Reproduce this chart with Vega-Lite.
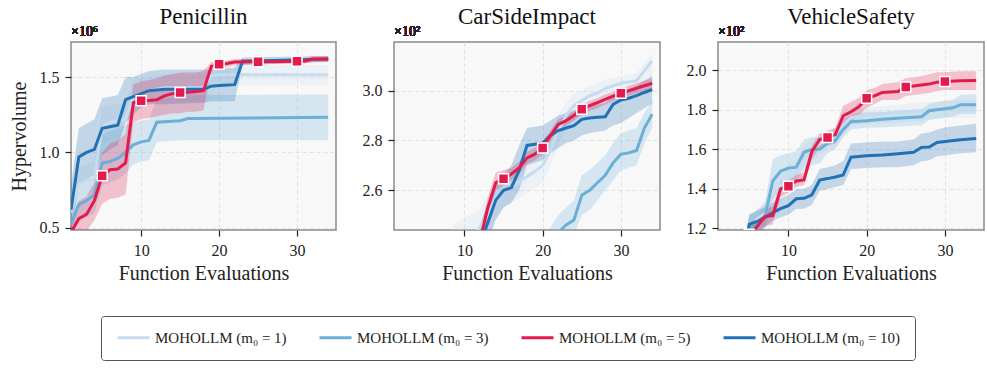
{
"$schema": "https://vega.github.io/schema/vega-lite/v6.json",
"padding": {"left": 8, "top": 5, "right": 5, "bottom": 5},
"data": {"values": [
{"p":"P","s":"1","x":1,"m":0.60,"lo":0.50,"hi":0.72},
{"p":"P","s":"1","x":2,"m":0.79,"lo":0.70,"hi":0.90},
{"p":"P","s":"1","x":3,"m":0.81,"lo":0.72,"hi":0.92},
{"p":"P","s":"1","x":4,"m":0.83,"lo":0.73,"hi":0.94},
{"p":"P","s":"1","x":5,"m":1.17,"lo":1.05,"hi":1.30},
{"p":"P","s":"1","x":6,"m":1.20,"lo":1.08,"hi":1.31},
{"p":"P","s":"1","x":7,"m":1.21,"lo":1.09,"hi":1.32},
{"p":"P","s":"1","x":8,"m":1.22,"lo":1.10,"hi":1.33},
{"p":"P","s":"1","x":9,"m":1.37,"lo":1.28,"hi":1.48},
{"p":"P","s":"1","x":10,"m":1.39,"lo":1.30,"hi":1.49},
{"p":"P","s":"1","x":11,"m":1.41,"lo":1.32,"hi":1.50},
{"p":"P","s":"1","x":12,"m":1.42,"lo":1.33,"hi":1.51},
{"p":"P","s":"1","x":13,"m":1.43,"lo":1.34,"hi":1.52},
{"p":"P","s":"1","x":18,"m":1.43,"lo":1.34,"hi":1.52},
{"p":"P","s":"1","x":19,"m":1.51,"lo":1.45,"hi":1.57},
{"p":"P","s":"1","x":20,"m":1.515,"lo":1.45,"hi":1.58},
{"p":"P","s":"1","x":34,"m":1.515,"lo":1.45,"hi":1.58},
{"p":"P","s":"3","x":1,"m":0.52,"lo":0.45,"hi":0.62},
{"p":"P","s":"3","x":2,"m":0.655,"lo":0.55,"hi":0.78},
{"p":"P","s":"3","x":3,"m":0.68,"lo":0.57,"hi":0.80},
{"p":"P","s":"3","x":4,"m":0.72,"lo":0.60,"hi":0.85},
{"p":"P","s":"3","x":5,"m":0.93,"lo":0.78,"hi":1.12},
{"p":"P","s":"3","x":6,"m":0.94,"lo":0.80,"hi":1.14},
{"p":"P","s":"3","x":7,"m":0.96,"lo":0.82,"hi":1.16},
{"p":"P","s":"3","x":8,"m":1.00,"lo":0.86,"hi":1.18},
{"p":"P","s":"3","x":9,"m":1.05,"lo":0.92,"hi":1.20},
{"p":"P","s":"3","x":10,"m":1.07,"lo":0.94,"hi":1.21},
{"p":"P","s":"3","x":11,"m":1.08,"lo":0.95,"hi":1.22},
{"p":"P","s":"3","x":12,"m":1.20,"lo":1.07,"hi":1.35},
{"p":"P","s":"3","x":15,"m":1.21,"lo":1.08,"hi":1.37},
{"p":"P","s":"3","x":16,"m":1.225,"lo":1.08,"hi":1.38},
{"p":"P","s":"3","x":34,"m":1.233,"lo":1.08,"hi":1.385},
{"p":"P","s":"10","x":1,"m":0.62,"lo":0.48,"hi":0.78},
{"p":"P","s":"10","x":2,"m":0.97,"lo":0.78,"hi":1.16},
{"p":"P","s":"10","x":3,"m":1.00,"lo":0.82,"hi":1.19},
{"p":"P","s":"10","x":4,"m":1.02,"lo":0.85,"hi":1.22},
{"p":"P","s":"10","x":5,"m":1.16,"lo":0.98,"hi":1.36},
{"p":"P","s":"10","x":6,"m":1.17,"lo":1.02,"hi":1.37},
{"p":"P","s":"10","x":7,"m":1.18,"lo":1.05,"hi":1.38},
{"p":"P","s":"10","x":8,"m":1.35,"lo":1.20,"hi":1.50},
{"p":"P","s":"10","x":9,"m":1.37,"lo":1.25,"hi":1.50},
{"p":"P","s":"10","x":10,"m":1.39,"lo":1.30,"hi":1.52},
{"p":"P","s":"10","x":11,"m":1.41,"lo":1.32,"hi":1.54},
{"p":"P","s":"10","x":13,"m":1.42,"lo":1.32,"hi":1.55},
{"p":"P","s":"10","x":18,"m":1.42,"lo":1.33,"hi":1.55},
{"p":"P","s":"10","x":19,"m":1.44,"lo":1.34,"hi":1.55},
{"p":"P","s":"10","x":20,"m":1.445,"lo":1.34,"hi":1.555},
{"p":"P","s":"10","x":22,"m":1.45,"lo":1.34,"hi":1.56},
{"p":"P","s":"10","x":23,"m":1.605,"lo":1.58,"hi":1.63},
{"p":"P","s":"10","x":34,"m":1.62,"lo":1.60,"hi":1.64},
{"p":"P","s":"5","x":1,"m":0.47,"lo":0.40,"hi":0.55},
{"p":"P","s":"5","x":2,"m":0.56,"lo":0.45,"hi":0.68},
{"p":"P","s":"5","x":3,"m":0.59,"lo":0.48,"hi":0.71},
{"p":"P","s":"5","x":4,"m":0.68,"lo":0.55,"hi":0.80},
{"p":"P","s":"5","x":5,"m":0.845,"lo":0.66,"hi":1.00},
{"p":"P","s":"5","x":6,"m":0.885,"lo":0.69,"hi":1.06},
{"p":"P","s":"5","x":7,"m":0.89,"lo":0.70,"hi":1.08},
{"p":"P","s":"5","x":8,"m":0.93,"lo":0.72,"hi":1.12},
{"p":"P","s":"5","x":9,"m":1.33,"lo":1.20,"hi":1.45},
{"p":"P","s":"5","x":10,"m":1.343,"lo":1.22,"hi":1.47},
{"p":"P","s":"5","x":11,"m":1.345,"lo":1.23,"hi":1.48},
{"p":"P","s":"5","x":12,"m":1.35,"lo":1.24,"hi":1.49},
{"p":"P","s":"5","x":13,"m":1.375,"lo":1.25,"hi":1.51},
{"p":"P","s":"5","x":14,"m":1.39,"lo":1.26,"hi":1.52},
{"p":"P","s":"5","x":15,"m":1.397,"lo":1.26,"hi":1.53},
{"p":"P","s":"5","x":16,"m":1.40,"lo":1.27,"hi":1.53},
{"p":"P","s":"5","x":17,"m":1.405,"lo":1.27,"hi":1.53},
{"p":"P","s":"5","x":18,"m":1.41,"lo":1.28,"hi":1.54},
{"p":"P","s":"5","x":19,"m":1.57,"lo":1.54,"hi":1.60},
{"p":"P","s":"5","x":20,"m":1.585,"lo":1.56,"hi":1.61},
{"p":"P","s":"5","x":21,"m":1.59,"lo":1.57,"hi":1.61},
{"p":"P","s":"5","x":22,"m":1.60,"lo":1.58,"hi":1.62},
{"p":"P","s":"5","x":25,"m":1.602,"lo":1.585,"hi":1.62},
{"p":"P","s":"5","x":30,"m":1.605,"lo":1.59,"hi":1.62},
{"p":"P","s":"5","x":31,"m":1.607,"lo":1.59,"hi":1.625},
{"p":"P","s":"5","x":32,"m":1.62,"lo":1.60,"hi":1.64},
{"p":"P","s":"5","x":34,"m":1.62,"lo":1.60,"hi":1.64},
{"p":"C","s":"1","x":1,"m":2.10,"lo":2.00,"hi":2.20},
{"p":"C","s":"1","x":9,"m":2.35,"lo":2.25,"hi":2.47},
{"p":"C","s":"1","x":12,"m":2.45,"lo":2.36,"hi":2.52},
{"p":"C","s":"1","x":13,"m":2.50,"lo":2.42,"hi":2.58},
{"p":"C","s":"1","x":14,"m":2.57,"lo":2.49,"hi":2.64},
{"p":"C","s":"1","x":15,"m":2.60,"lo":2.53,"hi":2.67},
{"p":"C","s":"1","x":16,"m":2.61,"lo":2.55,"hi":2.68},
{"p":"C","s":"1","x":17,"m":2.635,"lo":2.57,"hi":2.71},
{"p":"C","s":"1","x":18,"m":2.655,"lo":2.59,"hi":2.73},
{"p":"C","s":"1","x":19,"m":2.675,"lo":2.61,"hi":2.75},
{"p":"C","s":"1","x":20,"m":2.70,"lo":2.63,"hi":2.78},
{"p":"C","s":"1","x":21,"m":2.76,"lo":2.70,"hi":2.83},
{"p":"C","s":"1","x":22,"m":2.84,"lo":2.78,"hi":2.90},
{"p":"C","s":"1","x":23,"m":2.90,"lo":2.84,"hi":2.95},
{"p":"C","s":"1","x":24,"m":2.94,"lo":2.88,"hi":2.99},
{"p":"C","s":"1","x":25,"m":2.96,"lo":2.90,"hi":3.00},
{"p":"C","s":"1","x":26,"m":2.98,"lo":2.92,"hi":3.02},
{"p":"C","s":"1","x":27,"m":2.99,"lo":2.94,"hi":3.03},
{"p":"C","s":"1","x":28,"m":3.01,"lo":2.96,"hi":3.045},
{"p":"C","s":"1","x":29,"m":3.02,"lo":2.97,"hi":3.05},
{"p":"C","s":"1","x":30,"m":3.03,"lo":2.98,"hi":3.06},
{"p":"C","s":"1","x":31,"m":3.035,"lo":2.99,"hi":3.065},
{"p":"C","s":"1","x":32,"m":3.04,"lo":3.00,"hi":3.07},
{"p":"C","s":"1","x":33,"m":3.08,"lo":3.03,"hi":3.11},
{"p":"C","s":"1","x":34,"m":3.12,"lo":3.06,"hi":3.15},
{"p":"C","s":"3","x":1,"m":2.00,"lo":1.90,"hi":2.10},
{"p":"C","s":"3","x":20,"m":2.33,"lo":2.25,"hi":2.42},
{"p":"C","s":"3","x":21,"m":2.38,"lo":2.30,"hi":2.45},
{"p":"C","s":"3","x":22,"m":2.43,"lo":2.35,"hi":2.50},
{"p":"C","s":"3","x":23,"m":2.46,"lo":2.39,"hi":2.53},
{"p":"C","s":"3","x":24,"m":2.48,"lo":2.42,"hi":2.56},
{"p":"C","s":"3","x":25,"m":2.58,"lo":2.50,"hi":2.66},
{"p":"C","s":"3","x":26,"m":2.60,"lo":2.52,"hi":2.68},
{"p":"C","s":"3","x":27,"m":2.63,"lo":2.56,"hi":2.71},
{"p":"C","s":"3","x":28,"m":2.66,"lo":2.60,"hi":2.74},
{"p":"C","s":"3","x":29,"m":2.71,"lo":2.64,"hi":2.79},
{"p":"C","s":"3","x":30,"m":2.745,"lo":2.68,"hi":2.83},
{"p":"C","s":"3","x":31,"m":2.75,"lo":2.69,"hi":2.84},
{"p":"C","s":"3","x":32,"m":2.76,"lo":2.70,"hi":2.85},
{"p":"C","s":"3","x":33,"m":2.85,"lo":2.79,"hi":2.91},
{"p":"C","s":"3","x":34,"m":2.905,"lo":2.85,"hi":2.96},
{"p":"C","s":"10","x":1,"m":2.00,"lo":1.90,"hi":2.10},
{"p":"C","s":"10","x":11,"m":2.30,"lo":2.22,"hi":2.40},
{"p":"C","s":"10","x":12,"m":2.38,"lo":2.30,"hi":2.46},
{"p":"C","s":"10","x":13,"m":2.47,"lo":2.39,"hi":2.55},
{"p":"C","s":"10","x":14,"m":2.56,"lo":2.48,"hi":2.62},
{"p":"C","s":"10","x":15,"m":2.60,"lo":2.53,"hi":2.66},
{"p":"C","s":"10","x":16,"m":2.61,"lo":2.55,"hi":2.70},
{"p":"C","s":"10","x":17,"m":2.68,"lo":2.60,"hi":2.78},
{"p":"C","s":"10","x":18,"m":2.78,"lo":2.70,"hi":2.85},
{"p":"C","s":"10","x":19,"m":2.785,"lo":2.71,"hi":2.855},
{"p":"C","s":"10","x":20,"m":2.79,"lo":2.72,"hi":2.86},
{"p":"C","s":"10","x":21,"m":2.82,"lo":2.75,"hi":2.88},
{"p":"C","s":"10","x":22,"m":2.84,"lo":2.77,"hi":2.90},
{"p":"C","s":"10","x":23,"m":2.85,"lo":2.79,"hi":2.91},
{"p":"C","s":"10","x":24,"m":2.86,"lo":2.80,"hi":2.92},
{"p":"C","s":"10","x":25,"m":2.885,"lo":2.82,"hi":2.93},
{"p":"C","s":"10","x":26,"m":2.89,"lo":2.83,"hi":2.94},
{"p":"C","s":"10","x":27,"m":2.893,"lo":2.835,"hi":2.945},
{"p":"C","s":"10","x":28,"m":2.895,"lo":2.84,"hi":2.95},
{"p":"C","s":"10","x":29,"m":2.945,"lo":2.86,"hi":2.98},
{"p":"C","s":"10","x":30,"m":2.963,"lo":2.87,"hi":2.99},
{"p":"C","s":"10","x":31,"m":2.97,"lo":2.89,"hi":3.00},
{"p":"C","s":"10","x":32,"m":2.98,"lo":2.91,"hi":3.02},
{"p":"C","s":"10","x":33,"m":2.993,"lo":2.93,"hi":3.04},
{"p":"C","s":"10","x":34,"m":3.005,"lo":2.95,"hi":3.06},
{"p":"C","s":"5","x":1,"m":2.00,"lo":1.95,"hi":2.05},
{"p":"C","s":"5","x":11,"m":2.30,"lo":2.26,"hi":2.34},
{"p":"C","s":"5","x":12,"m":2.40,"lo":2.36,"hi":2.44},
{"p":"C","s":"5","x":13,"m":2.53,"lo":2.49,"hi":2.57},
{"p":"C","s":"5","x":14,"m":2.63,"lo":2.60,"hi":2.67},
{"p":"C","s":"5","x":15,"m":2.646,"lo":2.62,"hi":2.68},
{"p":"C","s":"5","x":16,"m":2.665,"lo":2.64,"hi":2.69},
{"p":"C","s":"5","x":17,"m":2.69,"lo":2.665,"hi":2.715},
{"p":"C","s":"5","x":18,"m":2.73,"lo":2.705,"hi":2.755},
{"p":"C","s":"5","x":19,"m":2.745,"lo":2.72,"hi":2.77},
{"p":"C","s":"5","x":20,"m":2.77,"lo":2.745,"hi":2.795},
{"p":"C","s":"5","x":21,"m":2.82,"lo":2.80,"hi":2.84},
{"p":"C","s":"5","x":22,"m":2.865,"lo":2.845,"hi":2.885},
{"p":"C","s":"5","x":23,"m":2.88,"lo":2.86,"hi":2.90},
{"p":"C","s":"5","x":24,"m":2.90,"lo":2.88,"hi":2.92},
{"p":"C","s":"5","x":25,"m":2.926,"lo":2.905,"hi":2.945},
{"p":"C","s":"5","x":26,"m":2.94,"lo":2.92,"hi":2.96},
{"p":"C","s":"5","x":27,"m":2.952,"lo":2.93,"hi":2.97},
{"p":"C","s":"5","x":28,"m":2.965,"lo":2.945,"hi":2.985},
{"p":"C","s":"5","x":29,"m":2.978,"lo":2.96,"hi":2.995},
{"p":"C","s":"5","x":30,"m":2.99,"lo":2.97,"hi":3.01},
{"p":"C","s":"5","x":31,"m":3.00,"lo":2.98,"hi":3.02},
{"p":"C","s":"5","x":32,"m":3.01,"lo":2.99,"hi":3.03},
{"p":"C","s":"5","x":33,"m":3.02,"lo":3.00,"hi":3.04},
{"p":"C","s":"5","x":34,"m":3.03,"lo":3.01,"hi":3.05},
{"p":"V","s":"1","x":4,"m":1.00,"lo":0.95,"hi":1.05},
{"p":"V","s":"1","x":5,"m":1.20,"lo":1.15,"hi":1.25},
{"p":"V","s":"1","x":6,"m":1.25,"lo":1.19,"hi":1.30},
{"p":"V","s":"1","x":7,"m":1.28,"lo":1.22,"hi":1.34},
{"p":"V","s":"1","x":8,"m":1.36,"lo":1.29,"hi":1.43},
{"p":"V","s":"1","x":9,"m":1.42,"lo":1.34,"hi":1.49},
{"p":"V","s":"1","x":10,"m":1.45,"lo":1.38,"hi":1.52},
{"p":"V","s":"1","x":11,"m":1.48,"lo":1.41,"hi":1.55},
{"p":"V","s":"1","x":12,"m":1.55,"lo":1.49,"hi":1.61},
{"p":"V","s":"1","x":13,"m":1.60,"lo":1.54,"hi":1.66},
{"p":"V","s":"1","x":14,"m":1.63,"lo":1.57,"hi":1.68},
{"p":"V","s":"1","x":15,"m":1.65,"lo":1.60,"hi":1.70},
{"p":"V","s":"1","x":16,"m":1.66,"lo":1.61,"hi":1.71},
{"p":"V","s":"1","x":17,"m":1.72,"lo":1.67,"hi":1.77},
{"p":"V","s":"1","x":18,"m":1.76,"lo":1.72,"hi":1.80},
{"p":"V","s":"1","x":20,"m":1.775,"lo":1.73,"hi":1.81},
{"p":"V","s":"1","x":25,"m":1.79,"lo":1.74,"hi":1.83},
{"p":"V","s":"1","x":28,"m":1.80,"lo":1.75,"hi":1.84},
{"p":"V","s":"1","x":30,"m":1.805,"lo":1.76,"hi":1.845},
{"p":"V","s":"1","x":34,"m":1.81,"lo":1.76,"hi":1.85},
{"p":"V","s":"3","x":4,"m":1.00,"lo":0.95,"hi":1.05},
{"p":"V","s":"3","x":5,"m":1.20,"lo":1.15,"hi":1.27},
{"p":"V","s":"3","x":6,"m":1.23,"lo":1.17,"hi":1.29},
{"p":"V","s":"3","x":7,"m":1.26,"lo":1.19,"hi":1.33},
{"p":"V","s":"3","x":8,"m":1.44,"lo":1.35,"hi":1.55},
{"p":"V","s":"3","x":9,"m":1.49,"lo":1.40,"hi":1.57},
{"p":"V","s":"3","x":10,"m":1.505,"lo":1.43,"hi":1.58},
{"p":"V","s":"3","x":11,"m":1.51,"lo":1.44,"hi":1.59},
{"p":"V","s":"3","x":12,"m":1.585,"lo":1.50,"hi":1.65},
{"p":"V","s":"3","x":13,"m":1.60,"lo":1.52,"hi":1.66},
{"p":"V","s":"3","x":14,"m":1.60,"lo":1.53,"hi":1.66},
{"p":"V","s":"3","x":15,"m":1.63,"lo":1.58,"hi":1.68},
{"p":"V","s":"3","x":16,"m":1.645,"lo":1.60,"hi":1.70},
{"p":"V","s":"3","x":17,"m":1.70,"lo":1.66,"hi":1.75},
{"p":"V","s":"3","x":18,"m":1.74,"lo":1.70,"hi":1.78},
{"p":"V","s":"3","x":20,"m":1.745,"lo":1.71,"hi":1.79},
{"p":"V","s":"3","x":22,"m":1.752,"lo":1.71,"hi":1.79},
{"p":"V","s":"3","x":24,"m":1.757,"lo":1.715,"hi":1.795},
{"p":"V","s":"3","x":26,"m":1.762,"lo":1.72,"hi":1.80},
{"p":"V","s":"3","x":27,"m":1.765,"lo":1.72,"hi":1.80},
{"p":"V","s":"3","x":28,"m":1.795,"lo":1.75,"hi":1.83},
{"p":"V","s":"3","x":29,"m":1.80,"lo":1.755,"hi":1.84},
{"p":"V","s":"3","x":30,"m":1.805,"lo":1.76,"hi":1.845},
{"p":"V","s":"3","x":31,"m":1.81,"lo":1.765,"hi":1.85},
{"p":"V","s":"3","x":32,"m":1.825,"lo":1.78,"hi":1.875},
{"p":"V","s":"3","x":34,"m":1.826,"lo":1.78,"hi":1.88},
{"p":"V","s":"10","x":4,"m":1.00,"lo":0.95,"hi":1.05},
{"p":"V","s":"10","x":5,"m":1.22,"lo":1.18,"hi":1.27},
{"p":"V","s":"10","x":6,"m":1.235,"lo":1.19,"hi":1.29},
{"p":"V","s":"10","x":7,"m":1.255,"lo":1.21,"hi":1.31},
{"p":"V","s":"10","x":8,"m":1.28,"lo":1.24,"hi":1.33},
{"p":"V","s":"10","x":9,"m":1.30,"lo":1.255,"hi":1.35},
{"p":"V","s":"10","x":10,"m":1.315,"lo":1.27,"hi":1.37},
{"p":"V","s":"10","x":11,"m":1.35,"lo":1.30,"hi":1.40},
{"p":"V","s":"10","x":12,"m":1.352,"lo":1.30,"hi":1.40},
{"p":"V","s":"10","x":13,"m":1.37,"lo":1.32,"hi":1.42},
{"p":"V","s":"10","x":14,"m":1.445,"lo":1.39,"hi":1.50},
{"p":"V","s":"10","x":15,"m":1.452,"lo":1.40,"hi":1.51},
{"p":"V","s":"10","x":16,"m":1.46,"lo":1.41,"hi":1.52},
{"p":"V","s":"10","x":17,"m":1.47,"lo":1.42,"hi":1.54},
{"p":"V","s":"10","x":18,"m":1.56,"lo":1.50,"hi":1.63},
{"p":"V","s":"10","x":20,"m":1.568,"lo":1.505,"hi":1.635},
{"p":"V","s":"10","x":22,"m":1.572,"lo":1.51,"hi":1.64},
{"p":"V","s":"10","x":24,"m":1.578,"lo":1.51,"hi":1.64},
{"p":"V","s":"10","x":26,"m":1.585,"lo":1.52,"hi":1.65},
{"p":"V","s":"10","x":27,"m":1.61,"lo":1.54,"hi":1.68},
{"p":"V","s":"10","x":28,"m":1.612,"lo":1.545,"hi":1.685},
{"p":"V","s":"10","x":29,"m":1.635,"lo":1.565,"hi":1.70},
{"p":"V","s":"10","x":30,"m":1.64,"lo":1.57,"hi":1.71},
{"p":"V","s":"10","x":32,"m":1.648,"lo":1.58,"hi":1.72},
{"p":"V","s":"10","x":34,"m":1.655,"lo":1.585,"hi":1.73},
{"p":"V","s":"5","x":4,"m":1.00,"lo":0.95,"hi":1.05},
{"p":"V","s":"5","x":5,"m":1.17,"lo":1.12,"hi":1.22},
{"p":"V","s":"5","x":6,"m":1.21,"lo":1.16,"hi":1.26},
{"p":"V","s":"5","x":7,"m":1.26,"lo":1.21,"hi":1.30},
{"p":"V","s":"5","x":8,"m":1.265,"lo":1.22,"hi":1.31},
{"p":"V","s":"5","x":9,"m":1.40,"lo":1.36,"hi":1.44},
{"p":"V","s":"5","x":10,"m":1.413,"lo":1.38,"hi":1.45},
{"p":"V","s":"5","x":11,"m":1.44,"lo":1.41,"hi":1.47},
{"p":"V","s":"5","x":12,"m":1.445,"lo":1.42,"hi":1.48},
{"p":"V","s":"5","x":13,"m":1.59,"lo":1.55,"hi":1.62},
{"p":"V","s":"5","x":14,"m":1.65,"lo":1.61,"hi":1.68},
{"p":"V","s":"5","x":15,"m":1.66,"lo":1.62,"hi":1.69},
{"p":"V","s":"5","x":16,"m":1.675,"lo":1.63,"hi":1.71},
{"p":"V","s":"5","x":17,"m":1.77,"lo":1.72,"hi":1.82},
{"p":"V","s":"5","x":18,"m":1.79,"lo":1.74,"hi":1.84},
{"p":"V","s":"5","x":19,"m":1.815,"lo":1.77,"hi":1.86},
{"p":"V","s":"5","x":20,"m":1.858,"lo":1.81,"hi":1.90},
{"p":"V","s":"5","x":21,"m":1.87,"lo":1.83,"hi":1.91},
{"p":"V","s":"5","x":22,"m":1.888,"lo":1.85,"hi":1.93},
{"p":"V","s":"5","x":24,"m":1.892,"lo":1.85,"hi":1.94},
{"p":"V","s":"5","x":25,"m":1.915,"lo":1.87,"hi":1.96},
{"p":"V","s":"5","x":27,"m":1.925,"lo":1.88,"hi":1.97},
{"p":"V","s":"5","x":28,"m":1.93,"lo":1.885,"hi":1.98},
{"p":"V","s":"5","x":29,"m":1.94,"lo":1.895,"hi":1.99},
{"p":"V","s":"5","x":30,"m":1.943,"lo":1.90,"hi":1.99},
{"p":"V","s":"5","x":32,"m":1.947,"lo":1.90,"hi":1.995},
{"p":"V","s":"5","x":34,"m":1.948,"lo":1.90,"hi":1.995}
]},
"spacing": 24,
"resolve": {"scale": {"x": "independent", "y": "independent", "color": "shared"}},
"hconcat": [
{
"width": 265, "height": 188, "title": "Penicillin",
"transform": [{"filter": "datum.p == 'P'"}],
"layer": [
{"transform": [{"filter": "datum.s == '1'"}],
 "mark": {"type": "area", "opacity": 0.25, "clip": true, "color": "#c6dbef"},
 "encoding": {
  "x": {"field": "x", "type": "quantitative", "scale": {"domain": [1, 35], "nice": false, "zero": false}, "axis": {"values": [10, 20, 30], "title": "Function Evaluations"}},
  "y": {"field": "lo", "type": "quantitative", "scale": {"domain": [0.485, 1.733], "nice": false, "zero": false}, "axis": {"values": [0.5, 1.0, 1.5], "format": ".1f", "title": "Hypervolume"}},
  "y2": {"field": "hi"}}},
{"transform": [{"filter": "datum.s == '3'"}],
 "mark": {"type": "area", "opacity": 0.25, "clip": true, "color": "#6baed6"},
 "encoding": {"x": {"field": "x", "type": "quantitative"}, "y": {"field": "lo", "type": "quantitative"}, "y2": {"field": "hi"}}},
{"transform": [{"filter": "datum.s == '10'"}],
 "mark": {"type": "area", "opacity": 0.25, "clip": true, "color": "#2171b5"},
 "encoding": {"x": {"field": "x", "type": "quantitative"}, "y": {"field": "lo", "type": "quantitative"}, "y2": {"field": "hi"}}},
{"transform": [{"filter": "datum.s == '5'"}],
 "mark": {"type": "area", "opacity": 0.25, "clip": true, "color": "#e31a4c"},
 "encoding": {"x": {"field": "x", "type": "quantitative"}, "y": {"field": "lo", "type": "quantitative"}, "y2": {"field": "hi"}}},
{"mark": {"type": "line", "strokeWidth": 3, "clip": true},
 "encoding": {
  "x": {"field": "x", "type": "quantitative"},
  "y": {"field": "m", "type": "quantitative"},
  "color": {"field": "s", "type": "nominal", "scale": {"domain": ["1", "3", "5", "10"], "range": ["#c6dbef", "#6baed6", "#e31a4c", "#2171b5"]},
   "legend": {"orient": "none", "legendX": 30, "legendY": 274, "direction": "horizontal", "title": null,
    "labelExpr": "'MOHOLLM (m₀ = ' + datum.value + ')'",
    "labelFont": "Liberation Serif", "labelFontSize": 15, "labelColor": "#222",
    "symbolType": "M-3.2,0H3.2", "symbolSize": 100, "symbolStrokeWidth": 3, "symbolOffset": 11, "labelOffset": 14, "columnPadding": 26,
    "padding": 14, "fillColor": "#ffffff", "strokeColor": "#555555", "cornerRadius": 3}}}},
{"transform": [{"filter": "datum.s == '5' && datum.x % 5 == 0"}],
 "mark": {"type": "square", "size": 100, "filled": true, "opacity": 1, "stroke": "white", "strokeWidth": 1.5, "clip": true, "color": "#e31a4c"},
 "encoding": {"x": {"field": "x", "type": "quantitative"}, "y": {"field": "m", "type": "quantitative"}}},
{"mark": {"type": "text", "align": "left", "baseline": "bottom", "dy": -3, "fontSize": 14, "fontWeight": "normal", "color": "#222"},
 "encoding": {"x": {"datum": 1, "type": "quantitative"}, "y": {"datum": 1.733, "type": "quantitative"}, "text": {"value": "×10⁶"}}}
]},
{
"width": 266, "height": 188, "title": "CarSideImpact",
"transform": [{"filter": "datum.p == 'C'"}],
"layer": [
{"transform": [{"filter": "datum.s == '1'"}],
 "mark": {"type": "area", "opacity": 0.25, "clip": true, "color": "#c6dbef"},
 "encoding": {
  "x": {"field": "x", "type": "quantitative", "scale": {"domain": [1, 35], "nice": false, "zero": false}, "axis": {"values": [10, 20, 30], "title": "Function Evaluations"}},
  "y": {"field": "lo", "type": "quantitative", "scale": {"domain": [2.44, 3.196], "nice": false, "zero": false}, "axis": {"values": [2.6, 2.8, 3.0], "format": ".1f", "title": null}},
  "y2": {"field": "hi"}}},
{"transform": [{"filter": "datum.s == '3'"}],
 "mark": {"type": "area", "opacity": 0.25, "clip": true, "color": "#6baed6"},
 "encoding": {"x": {"field": "x", "type": "quantitative"}, "y": {"field": "lo", "type": "quantitative"}, "y2": {"field": "hi"}}},
{"transform": [{"filter": "datum.s == '10'"}],
 "mark": {"type": "area", "opacity": 0.25, "clip": true, "color": "#2171b5"},
 "encoding": {"x": {"field": "x", "type": "quantitative"}, "y": {"field": "lo", "type": "quantitative"}, "y2": {"field": "hi"}}},
{"transform": [{"filter": "datum.s == '5'"}],
 "mark": {"type": "area", "opacity": 0.25, "clip": true, "color": "#e31a4c"},
 "encoding": {"x": {"field": "x", "type": "quantitative"}, "y": {"field": "lo", "type": "quantitative"}, "y2": {"field": "hi"}}},
{"mark": {"type": "line", "strokeWidth": 3, "clip": true},
 "encoding": {
  "x": {"field": "x", "type": "quantitative"},
  "y": {"field": "m", "type": "quantitative"},
  "color": {"field": "s", "type": "nominal", "scale": {"domain": ["1", "3", "5", "10"], "range": ["#c6dbef", "#6baed6", "#e31a4c", "#2171b5"]},
   "legend": {"orient": "none", "legendX": 30, "legendY": 274, "direction": "horizontal", "title": null,
    "labelExpr": "'MOHOLLM (m₀ = ' + datum.value + ')'",
    "labelFont": "Liberation Serif", "labelFontSize": 15, "labelColor": "#222",
    "symbolType": "M-3.2,0H3.2", "symbolSize": 100, "symbolStrokeWidth": 3, "symbolOffset": 11, "labelOffset": 14, "columnPadding": 26,
    "padding": 14, "fillColor": "#ffffff", "strokeColor": "#555555", "cornerRadius": 3}}}},
{"transform": [{"filter": "datum.s == '5' && datum.x % 5 == 0"}],
 "mark": {"type": "square", "size": 100, "filled": true, "opacity": 1, "stroke": "white", "strokeWidth": 1.5, "clip": true, "color": "#e31a4c"},
 "encoding": {"x": {"field": "x", "type": "quantitative"}, "y": {"field": "m", "type": "quantitative"}}},
{"mark": {"type": "text", "align": "left", "baseline": "bottom", "dy": -3, "fontSize": 14, "fontWeight": "normal", "color": "#222"},
 "encoding": {"x": {"datum": 1, "type": "quantitative"}, "y": {"datum": 3.196, "type": "quantitative"}, "text": {"value": "×10²"}}}
]},
{
"width": 266, "height": 188, "title": "VehicleSafety",
"transform": [{"filter": "datum.p == 'V'"}],
"layer": [
{"transform": [{"filter": "datum.s == '1'"}],
 "mark": {"type": "area", "opacity": 0.25, "clip": true, "color": "#c6dbef"},
 "encoding": {
  "x": {"field": "x", "type": "quantitative", "scale": {"domain": [1, 35], "nice": false, "zero": false}, "axis": {"values": [10, 20, 30], "title": "Function Evaluations"}},
  "y": {"field": "lo", "type": "quantitative", "scale": {"domain": [1.192, 2.143], "nice": false, "zero": false}, "axis": {"values": [1.2, 1.4, 1.6, 1.8, 2.0], "format": ".1f", "title": null}},
  "y2": {"field": "hi"}}},
{"transform": [{"filter": "datum.s == '3'"}],
 "mark": {"type": "area", "opacity": 0.25, "clip": true, "color": "#6baed6"},
 "encoding": {"x": {"field": "x", "type": "quantitative"}, "y": {"field": "lo", "type": "quantitative"}, "y2": {"field": "hi"}}},
{"transform": [{"filter": "datum.s == '10'"}],
 "mark": {"type": "area", "opacity": 0.25, "clip": true, "color": "#2171b5"},
 "encoding": {"x": {"field": "x", "type": "quantitative"}, "y": {"field": "lo", "type": "quantitative"}, "y2": {"field": "hi"}}},
{"transform": [{"filter": "datum.s == '5'"}],
 "mark": {"type": "area", "opacity": 0.25, "clip": true, "color": "#e31a4c"},
 "encoding": {"x": {"field": "x", "type": "quantitative"}, "y": {"field": "lo", "type": "quantitative"}, "y2": {"field": "hi"}}},
{"mark": {"type": "line", "strokeWidth": 3, "clip": true},
 "encoding": {
  "x": {"field": "x", "type": "quantitative"},
  "y": {"field": "m", "type": "quantitative"},
  "color": {"field": "s", "type": "nominal", "scale": {"domain": ["1", "3", "5", "10"], "range": ["#c6dbef", "#6baed6", "#e31a4c", "#2171b5"]},
   "legend": {"orient": "none", "legendX": 30, "legendY": 274, "direction": "horizontal", "title": null,
    "labelExpr": "'MOHOLLM (m₀ = ' + datum.value + ')'",
    "labelFont": "Liberation Serif", "labelFontSize": 15, "labelColor": "#222",
    "symbolType": "M-3.2,0H3.2", "symbolSize": 100, "symbolStrokeWidth": 3, "symbolOffset": 11, "labelOffset": 14, "columnPadding": 26,
    "padding": 14, "fillColor": "#ffffff", "strokeColor": "#555555", "cornerRadius": 3}}}},
{"transform": [{"filter": "datum.s == '5' && datum.x % 5 == 0"}],
 "mark": {"type": "square", "size": 100, "filled": true, "opacity": 1, "stroke": "white", "strokeWidth": 1.5, "clip": true, "color": "#e31a4c"},
 "encoding": {"x": {"field": "x", "type": "quantitative"}, "y": {"field": "m", "type": "quantitative"}}},
{"mark": {"type": "text", "align": "left", "baseline": "bottom", "dy": -3, "fontSize": 14, "fontWeight": "normal", "color": "#222"},
 "encoding": {"x": {"datum": 1, "type": "quantitative"}, "y": {"datum": 2.143, "type": "quantitative"}, "text": {"value": "×10²"}}}
]}
],
"config": {
 "font": "Liberation Serif",
 "view": {"fill": "#f8f8f8", "stroke": "#8a8a8a", "strokeWidth": 1.5},
 "axis": {"domain": false, "grid": true, "gridColor": "#dcdcdc", "gridDash": [4, 3], "gridWidth": 0.8,
  "tickColor": "#222", "tickSize": 6, "tickWidth": 1.2,
  "labelFont": "Liberation Serif", "labelFontSize": 16, "labelColor": "#222", "labelPadding": 6,
  "titleFont": "Liberation Serif", "titleFontSize": 20, "titleFontWeight": "normal", "titleColor": "#222"},
 "axisX": {"titlePadding": 5},
 "axisY": {"titlePadding": 10},
 "title": {"font": "Liberation Serif", "fontSize": 23, "fontWeight": "normal", "color": "#111", "offset": -4}
}
}
